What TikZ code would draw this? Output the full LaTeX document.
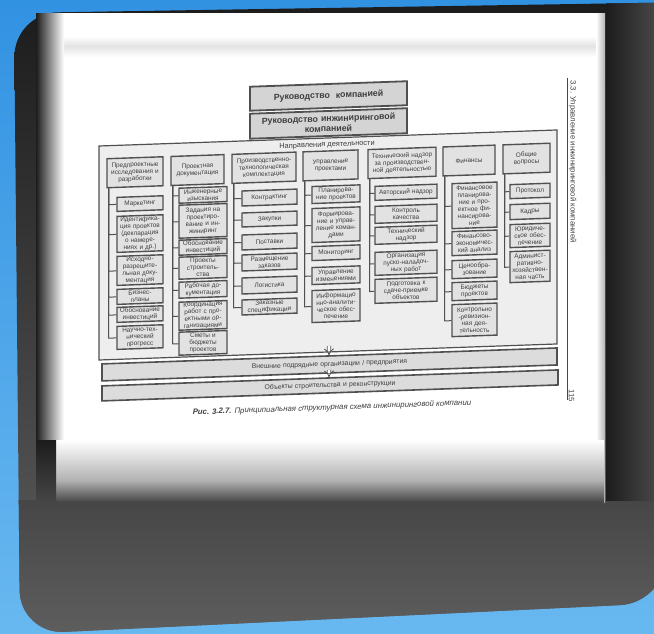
\documentclass[tikz,border=0pt]{standalone}
\usepackage{fontspec}
\setmainfont{Liberation Sans}
\usetikzlibrary{arrows.meta}
\definecolor{bgtop}{RGB}{50,146,226}
\definecolor{bgbot}{RGB}{104,184,240}
\definecolor{frA}{RGB}{28,28,28}
\definecolor{frB}{RGB}{70,70,70}
\definecolor{frC}{RGB}{94,94,94}
\definecolor{boxline}{RGB}{80,80,80}
\definecolor{boxfill}{RGB}{226,226,226}
\definecolor{contfill}{RGB}{238,238,238}
\definecolor{topfill}{RGB}{212,212,212}
\definecolor{bandfill}{RGB}{220,220,220}
\definecolor{txt}{RGB}{62,62,62}
\newcommand\mkbox[7][itm]{%
  \pgfmathsetmacro\mkw{(#5-#3)*0.5}%
  \pgfmathsetmacro\mkh{(#6-#4)*0.5}%
  \pgfmathsetmacro\mkt{(#5-#3)*0.5-1}%
  \node[#1, minimum width=\mkw pt, minimum height=\mkh pt, text width=\mkt pt] (#2) at ({(#3+#5)/2},{(#4+#6)/2}) {#7};}
\newcommand\colconn[2]{%
  \coordinate (#1v) at ([xshift=1.2pt]#1.south west);
  \foreach \n in {#2}{\draw[conn] (#1v) |- (\n.west);}}
\tikzset{
  itm/.style={draw=boxline, fill=boxfill, line width=0.7pt, inner sep=0pt, align=center,
    font=\fontsize{3.2}{3.5}\selectfont, text=txt},
  cont/.style={draw=boxline, fill=contfill, line width=0.6pt, inner sep=0pt},
  conn/.style={draw=boxline, line width=0.5pt},
  topbox/.style={draw=boxline, fill=topfill, line width=0.9pt, inner sep=0pt, align=center,
    font=\fontsize{4.4}{5.0}\selectfont\bfseries, text=txt},
  band/.style={draw=boxline, fill=bandfill, line width=0.8pt, inner sep=0pt, align=center,
    font=\fontsize{3.4}{4}\selectfont, text=txt},
  lbl/.style={inner sep=0pt, text=txt, font=\fontsize{3.7}{4.2}\selectfont},
  arr/.style={draw=boxline, line width=0.4pt, double=white, double distance=1.3pt, -{Implies}},
}
\begin{document}
\begin{tikzpicture}[x=0.5pt,y=-0.5pt]
\useasboundingbox (0,0) rectangle (654,633);
% background
\shade[top color=bgtop, bottom color=bgbot] (0,0) rectangle (654,633);
% frame
\shade[top color=frA, bottom color=frC, rounded corners=22]
  (14,13) -- (700,2) -- (664,603) -- (20,634) -- cycle;
\begin{scope}
\clip[rounded corners=22] (14,13) -- (700,2) -- (664,603) -- (20,634) -- cycle;
\shade[top color=frB, bottom color=frC] (0,500) rectangle (654,634);
\shade[left color=frA, right color=frB] (606,0) rectangle (654,500);
\end{scope}
% paper
\fill[white] (54,13) rectangle (604,502);
\shade[top color=white, bottom color=gray!22] (54,36) rectangle (604,46);
\shade[top color=gray!22, bottom color=white] (54,46) rectangle (604,57);
\shade[left color=frA, right color=white] (36,13) rectangle (64,502);
\shade[left color=white, right color=gray!60] (596,13) rectangle (605,502);
\shade[top color=white, bottom color=gray!60] (56,440) rectangle (604,480);
\shade[top color=gray!60, bottom color=frB] (56,480) rectangle (604,502);
\shade[top color=frA, bottom color=frB] (36,440) rectangle (56,502);
% page texts
\draw[gray!55!black, line width=0.4pt] (567,78) -- (567,400);
\node[rotate=-90, anchor=south west, inner sep=0pt, text=gray!55!black,
  font=\fontsize{3.9}{4.4}\selectfont] (runhead) at (568.5,80) {3.3. Управление инжиниринговой компанией};
\node[rotate=-90, anchor=south west, inner sep=0pt, text=gray!55!black,
  font=\fontsize{3.9}{4.4}\selectfont] (pageno) at (568.5,389) {115};
% diagram
\begin{scope}[transform canvas={cm={1,0.035,0,1,(0pt,-1.7325pt)}}]
\mkbox[topbox]{t1}{250}{92}{407}{116}{Руководство\ \ компанией}
\mkbox[topbox]{t2}{250}{119}{407}{144}{Руководство инжиниринговой\\компанией}
\mkbox[cont]{cnt}{99}{146}{557}{360}{}
\node[lbl] (dir) at (327,153) {Направления деятельности};
% column 1
\mkbox{h1}{107}{159}{163}{188}{Предпроектные\\исследования и\\разработки}
\mkbox{a1}{117}{198}{163}{212}{Маркетинг}
\mkbox{a2}{117}{217}{163}{253}{Идентифика-\\ция проектов\\(декларация\\о намере-\\ниях и др.)}
\mkbox{a3}{117}{257}{163}{286}{Исходно-\\разрешите-\\льная доку-\\ментация}
\mkbox{a4}{117}{290}{163}{305}{Бизнес-\\планы}
\mkbox{a5}{117}{308}{163}{323}{Обоснование\\инвестиций}
\mkbox{a6}{117}{327}{163}{350}{Научно-тех-\\нический\\прогресс}
\colconn{h1}{a1,a2,a3,a4,a5,a6}
% column 2
\mkbox{h2}{171}{159}{224}{188}{Проектная\\документация}
\mkbox{b1}{179}{191}{227}{206}{Инженерные\\изыскания}
\mkbox{b2}{179}{208}{227}{241}{Задания на\\проектиро-\\вание и ин-\\жиниринг}
\mkbox{b3}{179}{243}{227}{258}{Обоснование\\инвестиций}
\mkbox{b4}{179}{260}{227}{282}{Проекты\\строитель-\\ства}
\mkbox{b5}{179}{285}{227}{301}{Рабочая до-\\кументация}
\mkbox{b6}{179}{305}{227}{333}{Координация\\работ с про-\\ектными ор-\\ганизациями}
\mkbox{b7}{179}{335}{227}{358}{Сметы и\\бюджеты\\проектов}
\colconn{h2}{b1,b2,b3,b4,b5,b6,b7}
% column 3
\mkbox{h3}{232}{159}{296}{188}{Производственно-\\технологическая\\комплектация}
\mkbox{c1}{242}{196}{297}{211}{Контрактинг}
\mkbox{c2}{242}{218}{297}{232}{Закупки}
\mkbox{c3}{242}{240}{297}{255}{Поставки}
\mkbox{c4}{242}{260}{297}{276}{Размещение\\заказов}
\mkbox{c5}{242}{283}{297}{299}{Логистика}
\mkbox{c6}{242}{305}{297}{320}{Заказные\\спецификации}
\colconn{h3}{c1,c2,c3,c4,c5,c6}
% column 4
\mkbox{h4}{303}{159}{358}{188}{Управление\\проектами}
\mkbox{d1}{312}{194}{360}{211}{Планирова-\\ние проектов}
\mkbox{d2}{312}{216}{360}{250}{Формирова-\\ние и управ-\\ление коман-\\дами}
\mkbox{d3}{312}{254}{360}{268}{Мониторинг}
\mkbox{d4}{312}{275}{360}{292}{Управление\\изменениями}
\mkbox{d5}{312}{298}{360}{330}{Информацио\\нно-аналити-\\ческое обес-\\печение}
\colconn{h4}{d1,d2,d3,d4,d5}
% column 5
\mkbox{h5}{368}{159}{436}{188}{Технический надзор\\за производствен-\\ной деятельностью}
\mkbox{e1}{375}{196}{437}{210}{Авторский надзор}
\mkbox{e2}{375}{216}{437}{233}{Контроль\\качества}
\mkbox{e3}{375}{237}{437}{254}{Технический\\надзор}
\mkbox{e4}{375}{262}{437}{285}{Организация\\пуско-наладоч-\\ных работ}
\mkbox{e5}{375}{289}{437}{313}{Подготовка к\\сдаче-приемке\\объектов}
\colconn{h5}{e1,e2,e3,e4,e5}
% column 6
\mkbox{h6}{443}{159}{495}{188}{Финансы}
\mkbox{f1}{452}{196}{497}{241}{Финансовое\\планирова-\\ние и про-\\ектное фи-\\нансирова-\\ние}
\mkbox{f2}{452}{244}{497}{268}{Финансово-\\экономичес-\\кий анализ}
\mkbox{f3}{452}{273}{497}{291}{Ценообра-\\зование}
\mkbox{f4}{452}{295}{497}{313}{Бюджеты\\проектов}
\mkbox{f5}{452}{317}{497}{349}{Контрольно\\-ревизион-\\ная дея-\\тельность}
\colconn{h6}{f1,f2,f3,f4,f5}
% column 7
\mkbox{h7}{503}{159}{550}{188}{Общие\\вопросы}
\mkbox{g1}{510}{199}{550}{213}{Протокол}
\mkbox{g2}{510}{219}{550}{234}{Кадры}
\mkbox{g3}{510}{239}{550}{262}{Юридиче-\\ское обес-\\печение}
\mkbox{g4}{510}{266}{550}{297}{Админист-\\ративно-\\хозяйствен-\\ная часть}
\colconn{h7}{g1,g2,g3,g4}
% bands
\mkbox[band]{bd1}{102}{364}{557}{381}{Внешние подрядные организации / предприятия}
\mkbox[band]{bd2}{102}{386}{558}{401}{Объекты строительства и реконструкции}
\coordinate (ar1) at (329,354);
\coordinate (ar2) at (329,378);
\draw[arr] (ar1) -- (ar1 |- bd1.north);
\draw[arr] (ar2) -- (ar2 |- bd2.north);
\node[inner sep=0pt, text=txt, font=\fontsize{3.9}{4.5}\selectfont\itshape] (cap) at (332,416)
  {\textbf{Рис. 3.2.7.} Принципиальная структурная схема инжиниринговой компании};
\end{scope}
\end{tikzpicture}
\end{document}
